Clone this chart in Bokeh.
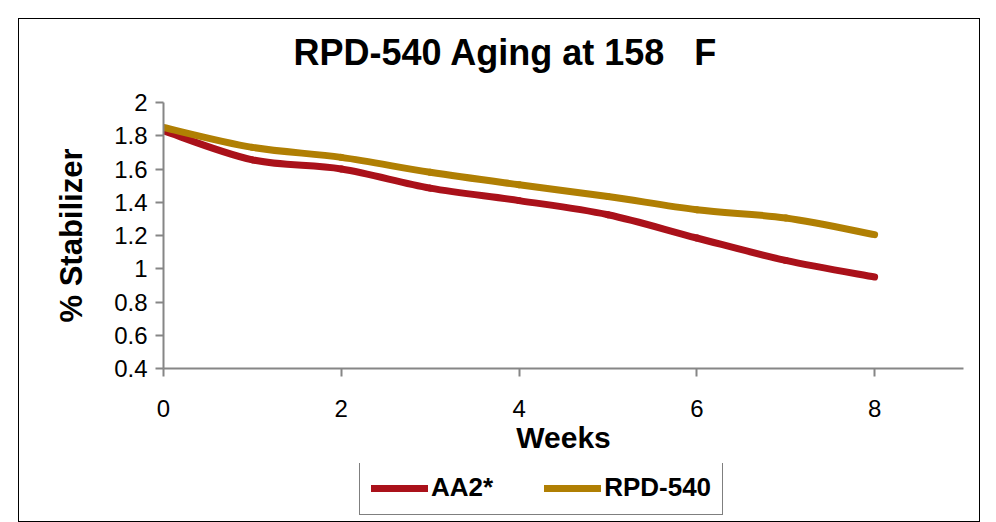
from bokeh.plotting import figure
from bokeh.layouts import column
from bokeh.models import ColumnDataSource, Legend, LegendItem, FixedTicker, Label
from bokeh.embed import file_html
from bokeh.resources import INLINE

# ---- data ----
weeks = [0, 1, 2, 3, 4, 5, 6, 7, 8]
aa2 = [1.83, 1.655, 1.60, 1.485, 1.41, 1.325, 1.185, 1.05, 0.95]
rpd540 = [1.85, 1.73, 1.67, 1.58, 1.505, 1.435, 1.355, 1.305, 1.205]
series_names = ["AA2*", "RPD-540"]
series_colors = ["#AA111A", "#B07F03"]
y_ticks = [0.4, 0.6, 0.8, 1, 1.2, 1.4, 1.6, 1.8, 2]
y_tick_labels = ["0.4", "0.6", "0.8", "1", "1.2", "1.4", "1.6", "1.8", "2"]
x_ticks = [0, 2, 4, 6, 8]
title_text = "RPD-540 Aging at 158\u00a0\u00a0 F"

FONT = "Liberation Sans"
W = 960


def smooth_segments(xs, ys):
    """Catmull-Rom style cubic Bezier control points (Excel-like smoothing)."""
    n = len(xs)
    d = dict(x0=[], y0=[], x1=[], y1=[], cx0=[], cy0=[], cx1=[], cy1=[])
    for i in range(n - 1):
        im1 = max(i - 1, 0)
        ip2 = min(i + 2, n - 1)
        d["x0"].append(xs[i]); d["y0"].append(ys[i])
        d["x1"].append(xs[i + 1]); d["y1"].append(ys[i + 1])
        d["cx0"].append(xs[i] + (xs[i + 1] - xs[im1]) / 6)
        d["cy0"].append(ys[i] + (ys[i + 1] - ys[im1]) / 6)
        d["cx1"].append(xs[i + 1] - (xs[ip2] - xs[i]) / 6)
        d["cy1"].append(ys[i + 1] - (ys[ip2] - ys[i]) / 6)
    return d


def strip(height):
    f = figure(width=W, height=height, x_range=(20, 21), y_range=(0, 1),
               output_backend="svg", toolbar_location=None,
               x_axis_location=None, y_axis_location=None,
               min_border=0, min_border_left=0, min_border_right=0,
               min_border_top=0, min_border_bottom=0)
    f.grid.visible = False
    f.outline_line_color = None
    f.background_fill_color = "white"
    f.border_fill_color = "white"
    return f


# ---- title strip ----
pt = strip(68)
pt.add_layout(Label(x=130, y=35, x_units="screen", y_units="screen",
                    text=title_text, text_font=FONT, text_font_size="36px",
                    text_font_style="bold", text_color="black",
                    text_baseline="alphabetic", text_align="left"))

# ---- main chart ----
p = figure(frame_width=800, frame_height=266, x_range=(0, 9), y_range=(0.4, 2),
           output_backend="svg", toolbar_location=None,
           min_border_left=144, min_border_right=16,
           min_border_top=15, min_border_bottom=95)
p.outline_line_color = None
p.xgrid.grid_line_color = None
p.ygrid.grid_line_color = None
p.background_fill_color = "white"
p.border_fill_color = "white"

for ax in (p.xaxis[0], p.yaxis[0]):
    ax.axis_line_color = "#868686"
    ax.axis_line_width = 2
    ax.major_tick_line_color = "#868686"
    ax.major_tick_line_width = 2
    ax.major_tick_in = 0
    ax.major_tick_out = 8
    ax.minor_tick_line_color = None
    ax.major_label_text_font = FONT
    ax.major_label_text_font_size = "24px"
    ax.major_label_text_color = "black"
    ax.axis_label_text_font = FONT
    ax.axis_label_text_font_style = "bold"
    ax.axis_label_text_color = "black"

p.xaxis.ticker = FixedTicker(ticks=x_ticks)
p.yaxis.ticker = FixedTicker(ticks=y_ticks)
p.yaxis.major_label_overrides = {t: l for t, l in zip(y_ticks, y_tick_labels)}
p.xaxis.axis_label = "Weeks"
p.yaxis.axis_label = "% Stabilizer"
p.xaxis.axis_label_text_font_size = "30px"
p.yaxis.axis_label_text_font_size = "31px"
p.xaxis.major_label_standoff = 23
p.xaxis.axis_label_standoff = 1
p.yaxis.major_label_standoff = 8
p.yaxis.axis_label_standoff = 22

for vals, col in zip([aa2, rpd540], series_colors):
    src = ColumnDataSource(smooth_segments(weeks, vals))
    p.bezier(x0="x0", y0="y0", x1="x1", y1="y1", cx0="cx0", cy0="cy0",
             cx1="cx1", cy1="cy1", source=src, line_color=col, line_width=7,
             line_cap="round")

# ---- legend strip ----
pl = strip(58)
items = []
for name, vals, col in zip(series_names, [aa2, rpd540], series_colors):
    # series drawn outside this strip's view; used only for the legend swatch
    leg = pl.line(x=weeks, y=vals, line_color=col, line_width=7, line_cap="round")
    items.append(LegendItem(label=name, renderers=[leg]))

legend = Legend(items=items, orientation="horizontal", location=(196, 6))
legend.border_line_color = "black"
legend.border_line_width = 1
legend.background_fill_color = "white"
legend.background_fill_alpha = 1
legend.label_text_font = FONT
legend.label_text_font_size = "26px"
legend.label_text_font_style = "bold"
legend.label_text_color = "black"
legend.glyph_width = 57
legend.glyph_height = 26
legend.label_standoff = 3
legend.padding = 11
legend.spacing = 51
legend.margin = 0
pl.add_layout(legend, "center")

layout = column(pt, p, pl, spacing=0)
layout.styles = {"margin-left": "18px", "margin-top": "18px",
                 "border": "1px solid black"}

open("out.html", "w").write(file_html(layout, INLINE))
